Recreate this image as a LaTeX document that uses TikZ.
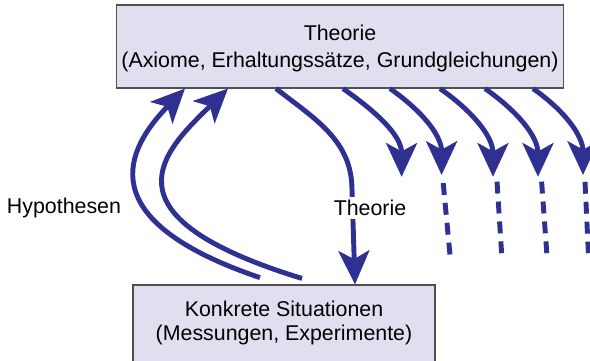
\documentclass[tikz,border=0pt]{standalone}
\usepackage{fontspec}
\setmainfont{Liberation Sans}
\usepackage{xcolor}
\usepackage{tikz}
\usetikzlibrary{arrows.meta,positioning,calc}
\definecolor{bleuFleche}{RGB}{46,49,146}
\definecolor{lilasClair}{RGB}{223,223,239}
\definecolor{grisBord}{RGB}{80,80,80}

\begin{document}
\begin{tikzpicture}[font=\fontsize{15.2}{19}\selectfont,
  boite/.style={rectangle,draw=grisBord,line width=0.8pt,fill=lilasClair,
                text centered,align=center},
  fleche/.style={-{Stealth[length=24pt,width=22pt,inset=6pt]},line width=3.5pt,
                 bleuFleche},
  pointille/.style={line width=3.5pt,bleuFleche,dash pattern=on 8.5pt off 5.7pt}]

  \useasboundingbox (0,0) rectangle (14.75,-9);

  \node[boite,minimum width=11.15cm,minimum height=2.075cm,text depth=0pt] (T)
    at (8.5,-1.1625) {Theorie\\(Axiome, Erhaltungssätze, Grundgleichungen)};
  \node[boite,minimum width=7.55cm,minimum height=2cm,text depth=5.6pt,
        font=\fontsize{15.2}{17.2}\selectfont] (B) at (7.1,-8.125)
    {Konkrete Situationen\\(Messungen, Experimente)};

  % Hypothesen
  \draw[fleche] ([xshift=-0.6cm,yshift=0.17cm]B.north)
    .. controls (2.25,-5.5) and (3.125,-3.75) .. ([xshift=-3.875cm]T.south);
  \draw[fleche] ([xshift=0.45cm,yshift=0.15cm]B.north)
    .. controls (2.375,-5.375) and (4.125,-3.75) .. ([xshift=-2.8cm]T.south);
  \node (hyp) at (1.6,-5.2) {Hypothesen};

  % Theorie
  \coordinate (knick) at (8.8,-4.75);
  \draw[fleche] ([xshift=-1.6cm]T.south) to[out=-38,in=90] (knick)
    -- ([xshift=1.775cm]B.north);
  \node[fill=white,inner sep=2pt] (theo) at (9.25,-5.2) {Theorie};

  % Folgerungen
  \coordinate (f1) at (10.04,-4.42);
  \coordinate (f2) at (11.04,-4.375);
  \coordinate (f3) at (12.325,-4.42);
  \coordinate (f4) at (13.45,-4.42);
  \coordinate (f5) at (14.575,-4.375);
  \draw[fleche] ([xshift=0.075cm]T.south) to[out=-35,in=90] (f1);
  \draw[fleche] ([xshift=1.25cm]T.south) to[out=-35,in=90] (f2);
  \draw[fleche] ([xshift=2.5cm]T.south) to[out=-35,in=90] (f3);
  \draw[fleche] ([xshift=3.625cm]T.south) to[out=-35,in=90] (f4);
  \draw[fleche] ([xshift=4.825cm]T.south) to[out=-35,in=90] (f5);

  \coordinate (d2) at (11.25,-6.375);
  \coordinate (d3) at (12.54,-6.33);
  \coordinate (d4) at (13.67,-6.33);
  \coordinate (d5) at (14.71,-6.33);
  \draw[pointille] ([shift={(0.04,-0.2)}]f2) -- (d2);
  \draw[pointille] ([shift={(0.1,-0.12)}]f3) -- (d3);
  \draw[pointille] ([shift={(0.09,-0.12)}]f4) -- (d4);
  \draw[pointille] ([shift={(0.05,-0.17)}]f5) -- (d5);
\end{tikzpicture}
\end{document}
